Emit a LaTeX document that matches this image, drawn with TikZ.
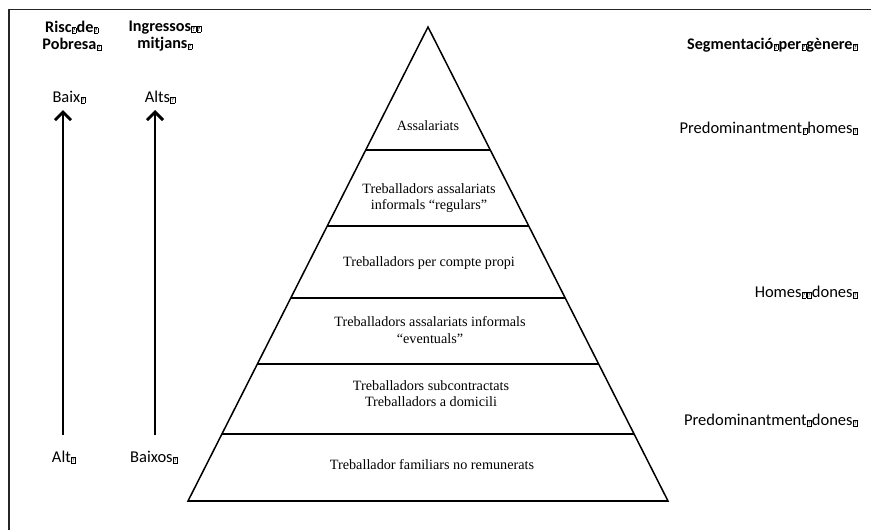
\documentclass[tikz,border=0pt]{standalone}
\usepackage{fontspec}
\setmainfont{Liberation Serif}
\newfontfamily\calib{Carlito}
\usetikzlibrary{arrows.meta}

% small framed question mark standing for an unprintable glyph
\newcommand\qbx{{\setlength{\fboxsep}{0.45pt}\setlength{\fboxrule}{0.4pt}\kern0.3pt\fbox{\fontsize{6.2}{6.2}\selectfont ?}\kern0.3pt}}

\tikzset{
  frame/.style={line width=1.6pt, draw=black!85},
  pyr/.style={line width=1.5pt, line join=miter},
  layer/.style={line width=1.8pt},
  lbl/.style={font=\fontsize{14.2}{16.2}\selectfont, align=center, inner sep=0pt},
  side/.style={font=\calib\fontsize{16.5}{17.5}\selectfont, inner sep=0pt},
  head/.style={font=\calib\bfseries\fontsize{16.2}{17.5}\selectfont, align=center, inner sep=0pt},
  uparrow/.style={line width=1.3pt, -{Straight Barb[length=8pt,width=16pt,line width=3pt]}}
}

\begin{document}
\begin{tikzpicture}[x=1pt,y=-1pt]
\useasboundingbox (0,0) rectangle (871,530);

% outer frame (top and left edges)
\draw[frame] (8.8,531) -- (8.8,9.6) -- (872,9.6);

% pyramid outline
\coordinate (apex) at (428,27);
\coordinate (bl) at (188,501);
\coordinate (br) at (668,501);
\draw[pyr] (bl) -- (apex) -- (br) -- cycle;

% layer boundaries
\coordinate (l1a) at (366,150); \coordinate (l1b) at (490,150);
\coordinate (l2a) at (327,226); \coordinate (l2b) at (529,226);
\coordinate (l3a) at (291,298); \coordinate (l3b) at (565,298);
\coordinate (l4a) at (257,364); \coordinate (l4b) at (599,364);
\coordinate (l5a) at (222,434); \coordinate (l5b) at (634,434);
\foreach \k in {1,...,5} \draw[layer] (l\k a) -- (l\k b);
\draw[layer] (bl) -- (br);

% layer labels
\node[lbl] (t1) at (428,126) {Assalariats};
\node[lbl] (t2) at (429,198) {Treballadors assalariats\\informals “regulars”};
\node[lbl] (t3) at (429,263) {Treballadors per compte propi};
\node[lbl] (t4) at (430,330) {Treballadors assalariats informals\\“eventuals”};
\node[lbl] (t5) at (431,394) {Treballadors subcontractats\\Treballadors a domicili};
\node[lbl] (t6) at (432,465) {Treballador familiars no remunerats};

% left-hand scales
\node[head] (h1) at (72,36) {Risc\qbx de\qbx\\Pobresa\qbx};
\node[head] (h2) at (165,36) {Ingressos\qbx\qbx\\mitjans\qbx};
\node[side] (baix) at (69,97) {Baix\qbx};
\node[side] (alts) at (160,97) {Alts\qbx};
\node[side] (alt) at (64,457) {Alt\qbx};
\node[side] (baixos) at (154,457) {Baixos\qbx};

\coordinate (a1s) at (63,435); \coordinate (a1e) at (63,110);
\coordinate (a2s) at (155,435); \coordinate (a2e) at (155,110);
\draw[uparrow] (a1s) -- (a1e);
\draw[uparrow] (a2s) -- (a2e);

% right-hand gender segmentation
\node[head, anchor=east] (g0) at (858,45) {Segmentació\qbx per\qbx gènere\qbx};
\node[side, anchor=east] (g1) at (858,128) {Predominantment\qbx homes\qbx};
\node[side, anchor=east] (g2) at (858,292) {Homes\qbx\qbx dones\qbx};
\node[side, anchor=east] (g3) at (858,420) {Predominantment\qbx dones\qbx};
\end{tikzpicture}
\end{document}
